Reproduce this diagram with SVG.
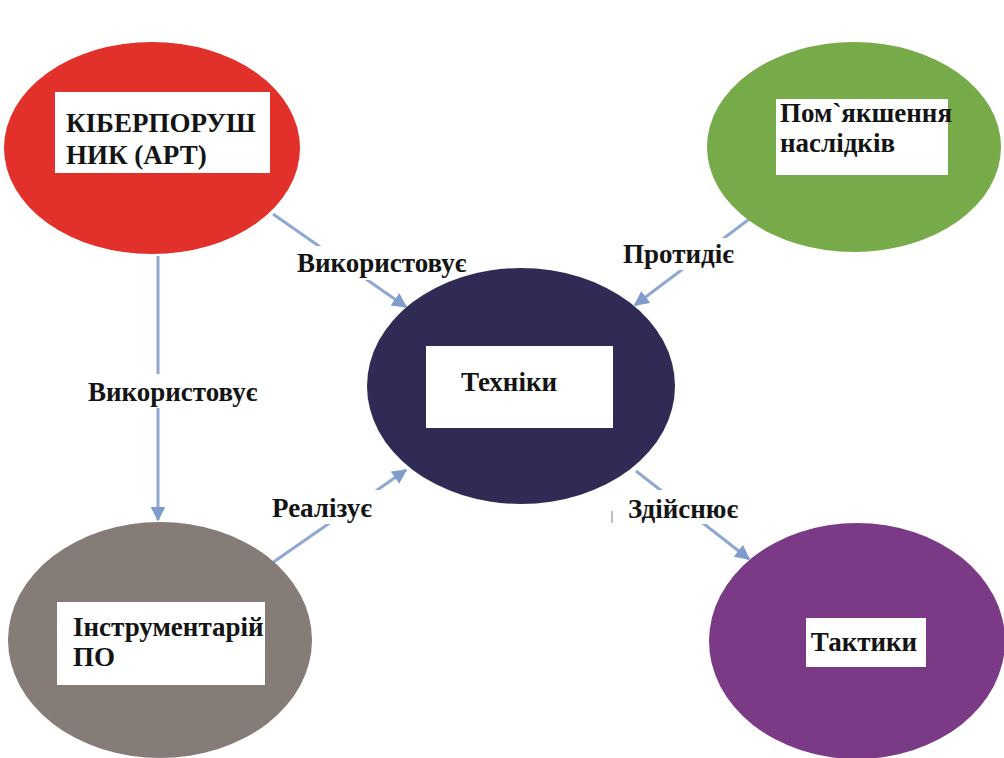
<svg xmlns="http://www.w3.org/2000/svg" width="1004" height="758" viewBox="0 0 1004 758">
  <defs>
    <marker id="arrow" viewBox="0 0 10 10" refX="9" refY="5" markerWidth="5" markerHeight="5" orient="auto" markerUnits="strokeWidth">
      <path d="M0,0 L10,5 L0,10 z" fill="#7f9ccc"/>
    </marker>
    <style>
      .edge { stroke: #8ea8d2; stroke-width: 3; fill: none; }
      .box { fill: #ffffff; }
      .txt, .lbl { font-weight: bold; font-size: 27px; fill: #141414; }
      .lblbg { fill: #ffffff; }
    </style>
  </defs>
  <rect x="0" y="0" width="1004" height="758" fill="#ffffff"/>

  <g font-family="'Liberation Serif', 'Times New Roman', serif">
  <!-- connectors: blue arrows, labels sit on white patches over the lines -->
  <g id="connectors">
    <line class="edge" x1="273" y1="214" x2="406" y2="307" marker-end="url(#arrow)"/>
    <line class="edge" x1="756" y1="214" x2="635" y2="305" marker-end="url(#arrow)"/>
    <line class="edge" x1="158" y1="256" x2="158" y2="520" marker-end="url(#arrow)"/>
    <line class="edge" x1="272" y1="563" x2="406" y2="470" marker-end="url(#arrow)"/>
    <line class="edge" x1="636" y1="471" x2="749" y2="559" marker-end="url(#arrow)"/>
    <line x1="612" y1="511" x2="612" y2="523" stroke="#bdbdbd" stroke-width="2"/>

    <rect class="lblbg" x="292" y="246" width="184" height="34"/>
    <text class="lbl" x="297" y="272">Використовує</text>
    <rect class="lblbg" x="618" y="238" width="126" height="32"/>
    <text class="lbl" x="623" y="263">Протидіє</text>
    <rect class="lblbg" x="84" y="374" width="184" height="34"/>
    <text class="lbl" x="88" y="401">Використовує</text>
    <rect class="lblbg" x="268" y="490" width="116" height="34"/>
    <text class="lbl" x="272" y="517">Реалізує</text>
    <rect class="lblbg" x="624" y="490" width="122" height="34"/>
    <text class="lbl" x="628" y="518">Здійснює</text>
  </g>

  <g id="node-attacker">
    <ellipse cx="152" cy="148" rx="148" ry="106" fill="#e2312b"/>
    <rect class="box" x="55" y="92" width="215" height="81"/>
    <text class="txt" x="66" y="132">КІБЕРПОРУШ</text>
    <text class="txt" x="66" y="164">НИК (АРТ)</text>
  </g>

  <g id="node-mitigation">
    <ellipse cx="854" cy="147" rx="147" ry="105" fill="#77ab49"/>
    <rect class="box" x="776" y="99" width="172" height="76"/>
    <text class="txt" x="780" y="122">Пом`якшення</text>
    <text class="txt" x="780" y="152">наслідків</text>
  </g>

  <g id="node-techniques">
    <ellipse cx="521" cy="386" rx="154" ry="118" fill="#2f2b54"/>
    <rect class="box" x="426" y="346" width="187" height="82"/>
    <text class="txt" x="509" y="391" text-anchor="middle">Техніки</text>
  </g>

  <g id="node-tools">
    <ellipse cx="160" cy="640" rx="152" ry="118" fill="#857c78"/>
    <rect class="box" x="57" y="602" width="208" height="83"/>
    <text class="txt" x="73" y="636">Інструментарій</text>
    <text class="txt" x="73" y="666">ПО</text>
  </g>

  <g id="node-tactics">
    <ellipse cx="857" cy="641" rx="148" ry="118" fill="#7b3a85"/>
    <rect class="box" x="806" y="618" width="120" height="49"/>
    <text class="txt" x="864" y="651" text-anchor="middle">Тактики</text>
  </g>
  </g>
</svg>
